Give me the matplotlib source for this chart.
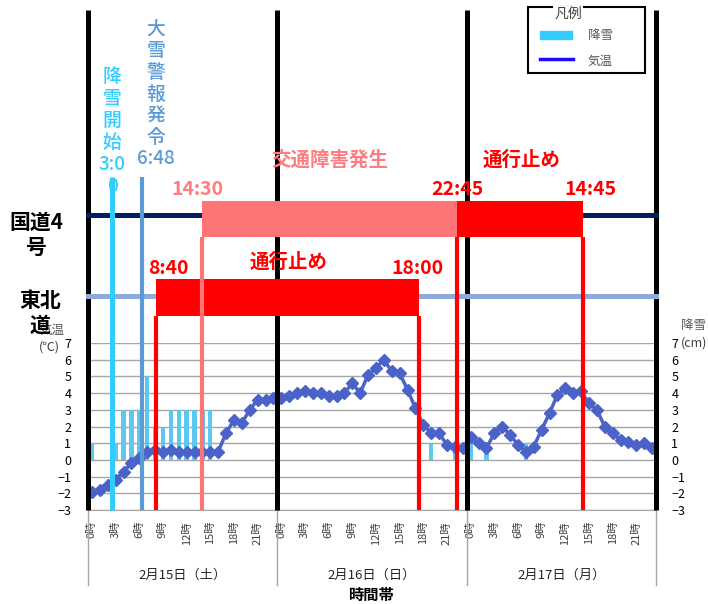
import numpy as np
import matplotlib.pyplot as plt
import matplotlib.transforms as mtransforms
from matplotlib.patches import Rectangle
from matplotlib.lines import Line2D

plt.rcParams['font.family'] = ['Noto Sans CJK JP', 'DejaVu Sans']

# 2/15 0時 から 2/17 23時 までの毎時データ
days = ['2月15日（土）', '2月16日（日）', '2月17日（月）']
hours = np.arange(72)
hour_labels = [f'{h % 24}時' for h in range(0, 72, 3)]

temp = [-1.9, -1.8, -1.5, -1.2, -0.7, -0.2, 0.1, 0.5, 0.6, 0.5, 0.6, 0.5,
        0.5, 0.5, 0.5, 0.5, 0.5, 1.6, 2.4, 2.2, 3.0, 3.6, 3.6, 3.7,
        3.7, 3.8, 4.0, 4.1, 4.0, 4.0, 3.8, 3.8, 4.0, 4.6, 4.0, 5.1,
        5.5, 6.0, 5.3, 5.2, 4.2, 3.1, 2.1, 1.6, 1.6, 0.9, 0.8, 0.7,
        1.4, 1.0, 0.7, 1.6, 2.0, 1.5, 0.9, 0.5, 0.8, 1.8, 2.8, 3.9,
        4.3, 4.0, 4.1, 3.4, 3.0, 2.0, 1.6, 1.2, 1.1, 0.9, 1.0, 0.7]

snow_hours = [0, 3, 4, 5, 6, 7, 8, 9, 10, 11, 12, 13, 14, 15, 43, 46, 48, 50, 55]
snow_cm = [1, 1, 3, 3, 3, 5, 2, 2, 3, 3, 3, 3, 3, 3, 1, 1, 1, 1, 1]

# 出来事の時刻（2/15 0:00 からの経過時間）
snow_start = 3.0                      # 降雪開始 3:00
warning = 6 + 48 / 60                 # 大雪警報発令 6:48
tohoku_closed = (8 + 40 / 60, 24 + 18.0)          # 東北道 通行止め 8:40〜18:00
route4_trouble = (14.5, 24 + 22.75)               # 国道4号 交通障害 14:30〜22:45
route4_closed = (24 + 22.75, 48 + 14.75)          # 国道4号 通行止め 22:45〜14:45

W, H = 708, 604


def fy(y):
    return 1 - y / H


def tx(t):
    # 時刻 -> 軸上の位置（各時間の区間の中心が整数）
    return t - 0.5


fig = plt.figure(figsize=(W / 100, H / 100), dpi=100)
rect = [88 / W, fy(510), 568 / W, 167 / H]
ax2 = fig.add_axes(rect)
ax = ax2.twinx()
ax.set_zorder(ax2.get_zorder() + 1)
ax.patch.set_visible(False)

# 降雪（右軸）
ax2.bar(snow_hours, snow_cm, width=0.55, color='#5CC8F0', zorder=2)
ax2.yaxis.grid(True, color='#A6A6A6', lw=1)
ax2.set_axisbelow(True)

# 気温（左軸）
ax.plot(hours, temp, color='#4B63C9', lw=2.5, marker='D', ms=6, zorder=3)

for a in (ax, ax2):
    a.set_xlim(-0.5, 71.5)
    a.set_ylim(-3, 7)
    a.set_yticks(range(-3, 8))
    for s in a.spines.values():
        s.set_visible(False)
ax2.spines['bottom'].set_visible(True)
ax2.spines['bottom'].set_color('#A6A6A6')

# 左軸を気温、右軸を降雪に
ax2.yaxis.tick_right()
ax.yaxis.tick_left()
ax2.tick_params(axis='y', length=0, pad=11, labelsize=9, right=False, labelright=True, left=False, labelleft=False)
ax.tick_params(axis='y', length=0, pad=12, labelsize=9, left=False, labelleft=True, right=False, labelright=False)
ax.tick_params(axis='x', bottom=False, labelbottom=False)

ax2.set_xticks(range(0, 72, 3))
ax2.set_xticklabels(hour_labels)
ax2.tick_params(axis='x', length=0, pad=8, labelsize=8, rotation=90, colors='#404040')

# 日付の区切りと日付ラベル
tb = mtransforms.blended_transform_factory(ax2.transData, fig.transFigure)
for d in range(4):
    ax2.plot([d * 24 - 0.5] * 2, [fy(510), fy(585)], color='#A6A6A6', lw=1,
             transform=tb, clip_on=False)
for i, lab in enumerate(days):
    ax2.text(i * 24 + 11.5, fy(575), lab, transform=tb, ha='center', va='center',
             fontsize=9.5, color='#262626')
fig.text(371 / W, fy(595), '時間帯', ha='center', va='center', fontsize=11,
         fontweight='bold')

# 上部の出来事（重ね描き用の軸）
ov = fig.add_axes(rect, sharex=ax2)
ov.set_axis_off()
ov.set_zorder(ax.get_zorder() + 1)
tr = mtransforms.blended_transform_factory(ov.transData, fig.transFigure)


def vline(t, y0, y1, color, lw, z):
    ov.add_line(Line2D([t, t], [fy(y0), fy(y1)], color=color, lw=lw, transform=tr,
                       clip_on=False, zorder=z, solid_capstyle='butt'))


for d in range(4):
    vline(d * 24 - 0.5, 10, 510, 'black', 3.6, 1)

ov.add_line(Line2D([-0.5, 71.5], [fy(215)] * 2, color='#002060', lw=3.6,
                   transform=tr, clip_on=False, zorder=2))
ov.add_line(Line2D([-0.5, 71.5], [fy(296)] * 2, color='#8EA9DB', lw=3.6,
                   transform=tr, clip_on=False, zorder=2))


def band(t0, t1, y0, y1, color):
    ov.add_patch(Rectangle((tx(t0), fy(y1)), t1 - t0, fy(y0) - fy(y1), color=color,
                           transform=tr, clip_on=False, zorder=3, lw=0))


band(*route4_trouble, 201, 237, '#FF7575')
band(*route4_closed, 201, 237, '#FF0000')
band(*tohoku_closed, 279, 316, '#FF0000')

vline(tx(route4_trouble[0]), 237, 510, '#FF7575', 3, 3)
vline(tx(route4_closed[0]), 237, 510, '#FF0000', 3, 3)
vline(tx(route4_closed[1]), 237, 510, '#FF0000', 3, 3)
vline(tx(tohoku_closed[0]), 316, 510, '#FF0000', 3, 3)
vline(tx(tohoku_closed[1]), 316, 510, '#FF0000', 3, 3)

vline(tx(snow_start), 177, 510, '#33CCFF', 3.6, 4)
vline(tx(warning), 177, 510, '#5B9BD5', 3, 4)


def label(x, y, s, color, size=14, weight='bold', ls=1.2, z=5):
    fig.text(x / W, fy(y), s, ha='center', va='center', color=color, fontsize=size,
             fontweight=weight, linespacing=ls, zorder=z)


label(112, 131, '降\n雪\n開\n始\n3:0\n0', '#33CCFF', size=13.5, weight='medium', ls=1.2)
label(156, 94, '大\n雪\n警\n報\n発\n令\n6:48', '#5B9BD5', size=13.5, weight='medium', ls=1.17)
label(197, 190, '14:30', '#FF7C80')
label(330, 160, '交通障害発生', '#FF7C80')
label(522, 160, '通行止め', '#FF0000')
label(457, 190, '22:45', '#FF0000')
label(590, 190, '14:45', '#FF0000')
label(168, 268, '8:40', '#FF0000')
label(289, 262, '通行止め', '#FF0000')
label(417, 268, '18:00', '#FF0000')

# 路線名と軸タイトル
label(52, 330, '気温', '#595959', size=9, weight='normal', z=4)
label(49, 347, '(℃)', '#404040', size=9, weight='normal')
label(36, 235, '国道4\n号', 'black', size=15, ls=1.25)
label(40, 313, '東北\n道', 'black', size=15, ls=1.25)
label(694, 325, '降雪', '#595959', size=9, weight='normal')
label(694, 343, '(cm)', '#404040', size=9, weight='normal')

# 凡例
fig.patches.append(Rectangle((528 / W, fy(73)), 117 / W, 66 / H, fill=False,
                             ec='black', lw=1.5, transform=fig.transFigure))
fig.text(568 / W, fy(14), '凡例', ha='center', va='center', fontsize=10,
         color='#404040', bbox=dict(fc='white', ec='none', pad=1))
fig.patches.append(Rectangle((540 / W, fy(39)), 32 / W, 8 / H, color='#33CCFF',
                             transform=fig.transFigure))
fig.lines.append(Line2D([540 / W, 573 / W], [fy(59)] * 2, color='#1A0DFF', lw=2.5,
                        transform=fig.transFigure))
fig.text(588 / W, fy(35), '降雪', ha='left', va='center', fontsize=9, color='#595959')
fig.text(588 / W, fy(61), '気温', ha='left', va='center', fontsize=9, color='#595959')

fig.savefig('out.png', dpi=100)
